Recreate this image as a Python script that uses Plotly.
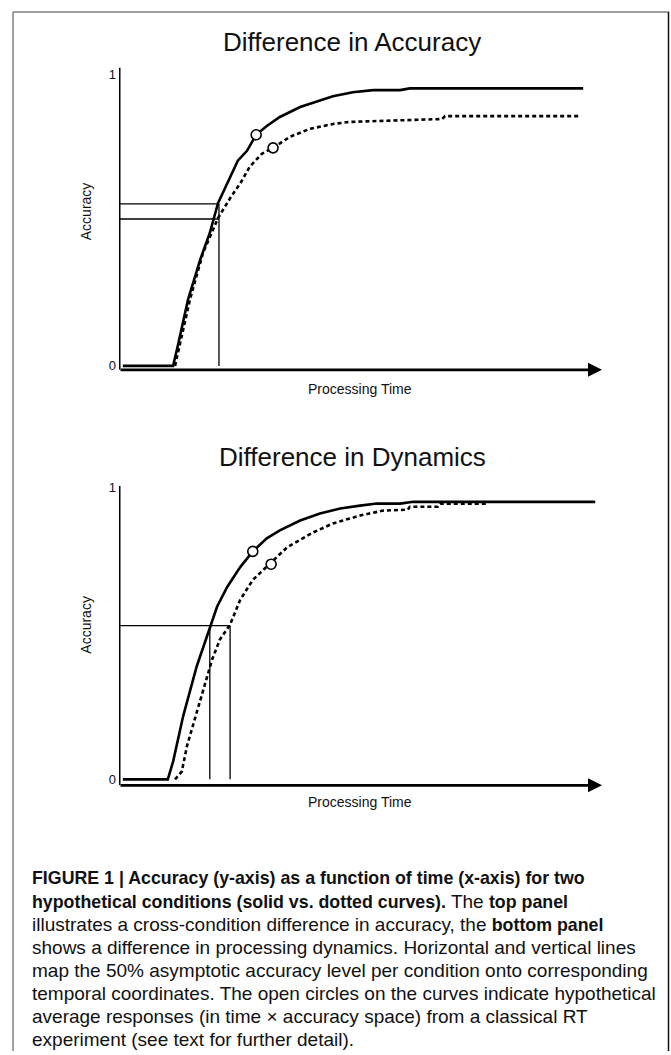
import plotly.graph_objects as go

W, H = 671, 1055

# ---------------- data ----------------
top_solid_t = [0.8, 11.2, 12.2, 14.3, 16.8, 18.8, 20.5, 22.4, 24.6, 26.5, 28.4, 30.6, 33.3, 37.5, 41.0, 44.3, 48.4, 52.6, 58.2, 60.2, 96.1]
top_solid_acc = [0, 0, 0.071, 0.228, 0.364, 0.456, 0.558, 0.626, 0.704, 0.738, 0.793, 0.823, 0.854, 0.888, 0.908, 0.925, 0.939, 0.946, 0.946, 0.952, 0.952]
top_dotted_t = [11.6, 13.0, 14.7, 17.4, 19.5, 20.5, 23.0, 25.1, 27.1, 29.6, 31.9, 35.4, 39.5, 44.3, 47.8, 54.0, 66.9, 67.5, 95.4]
top_dotted_acc = [0, 0.105, 0.228, 0.388, 0.473, 0.507, 0.575, 0.626, 0.684, 0.728, 0.748, 0.786, 0.813, 0.830, 0.837, 0.840, 0.847, 0.857, 0.857]
top_circles_t = [28.4, 31.9]
top_circles_acc = [0.793, 0.748]
top_levels = [0.556, 0.504]
top_cross_t = [20.7]

bot_solid_t = [0.8, 10.1, 11.2, 13.3, 16.1, 18.8, 20.3, 22.4, 25.1, 27.7, 30.6, 33.3, 37.5, 41.6, 45.8, 49.9, 53.4, 58.2, 60.9, 98.6]
bot_solid_acc = [0, 0, 0.061, 0.218, 0.388, 0.524, 0.592, 0.660, 0.728, 0.782, 0.827, 0.854, 0.888, 0.912, 0.929, 0.939, 0.946, 0.946, 0.952, 0.952]
bot_dotted_t = [11.6, 13.0, 14.1, 16.1, 18.2, 19.3, 20.9, 23.0, 25.1, 27.7, 31.3, 34.8, 40.2, 44.3, 49.9, 54.7, 59.8, 60.2, 66.0, 66.5, 76.2]
bot_dotted_acc = [0, 0.027, 0.116, 0.231, 0.354, 0.412, 0.480, 0.531, 0.616, 0.684, 0.741, 0.796, 0.847, 0.878, 0.905, 0.922, 0.925, 0.935, 0.935, 0.946, 0.946]
bot_circles_t = [27.7, 31.5]
bot_circles_acc = [0.782, 0.738]
bot_levels = [0.527]
bot_cross_t = [18.8, 23.0]

y_tick_vals = [0, 1]
y_tick_text = ["0", "1"]

titles = ["Difference in Accuracy", "Difference in Dynamics"]
x_label = "Processing Time"
y_label = "Accuracy"

B = '<span style="font-size:17.8px"><b>'
E = '</b></span>'
caption_lines = [
    B + "FIGURE 1 | Accuracy (y-axis) as a function of time (x-axis) for two" + E,
    B + "hypothetical conditions (solid vs. dotted curves)." + E + " The " + B + "top panel" + E,
    "illustrates a cross-condition difference in accuracy, the " + B + "bottom panel" + E,
    "shows a difference in processing dynamics. Horizontal and vertical lines",
    "map the 50% asymptotic accuracy level per condition onto corresponding",
    "temporal coordinates. The open circles on the curves indicate hypothetical",
    "average responses (in time \u00d7 accuracy space) from a classical RT",
    "experiment (see text for further detail).",
]

# ---------------- layout helpers ----------------
def px_x(p):
    return p / W

def px_y(p):
    return 1 - p / H

FONT = "Liberation Sans, Arial, Helvetica, sans-serif"

fig = go.Figure()

panels = [
    dict(xa="x", ya="y", solid=(top_solid_t, top_solid_acc), dotted=(top_dotted_t, top_dotted_acc),
         circles=(top_circles_t, top_circles_acc), levels=top_levels, cross=top_cross_t,
         yr=(-0.0136, 1.0238), ytop=63, ybot=368, title_y=37, xlab_y=387, ylab_y=208),
    dict(xa="x2", ya="y2", solid=(bot_solid_t, bot_solid_acc), dotted=(bot_dotted_t, bot_dotted_acc),
         circles=(bot_circles_t, bot_circles_acc), levels=bot_levels, cross=bot_cross_t,
         yr=(-0.0204, 1.0068), ytop=485, ybot=787, title_y=456, xlab_y=804, ylab_y=625),
]

annotations = []
for i, p in enumerate(panels):
    xa, ya = p["xa"], p["ya"]
    y0 = p["yr"][0]
    xmax_cross = max(p["cross"])
    for lv in p["levels"]:
        fig.add_trace(go.Scatter(x=[0, xmax_cross], y=[lv, lv], mode="lines",
                                 line=dict(color="black", width=1.3), xaxis=xa, yaxis=ya,
                                 showlegend=False, hoverinfo="skip"))
    for ct in p["cross"]:
        top_lv = min(p["levels"]) if len(p["cross"]) > 1 else max(p["levels"])
        fig.add_trace(go.Scatter(x=[ct, ct], y=[top_lv, 0],
                                 mode="lines", line=dict(color="black", width=1.3), xaxis=xa, yaxis=ya,
                                 showlegend=False, hoverinfo="skip"))
    fig.add_trace(go.Scatter(x=p["dotted"][0], y=p["dotted"][1], mode="lines",
                             line=dict(color="black", width=2.6, dash="4px,3px"), xaxis=xa, yaxis=ya,
                             showlegend=False, hoverinfo="skip"))
    fig.add_trace(go.Scatter(x=p["solid"][0], y=p["solid"][1], mode="lines",
                             line=dict(color="black", width=2.6), xaxis=xa, yaxis=ya,
                             showlegend=False, hoverinfo="skip"))
    fig.add_trace(go.Scatter(x=p["circles"][0], y=p["circles"][1], mode="markers",
                             marker=dict(size=10, color="white", line=dict(color="black", width=1.6)),
                             xaxis=xa, yaxis=ya, showlegend=False, hoverinfo="skip"))
    fig.add_trace(go.Scatter(x=[0, 0], y=[p["yr"][0], p["yr"][1]], mode="lines",
                             line=dict(color="black", width=3), xaxis=xa, yaxis=ya,
                             showlegend=False, hoverinfo="skip"))
    annotations.append(dict(x=100, y=y0, ax=0, ay=y0, xref=xa, yref=ya, axref=xa, ayref=ya,
                            text="", showarrow=True, arrowhead=2, arrowsize=1.0, arrowwidth=2.8,
                            arrowcolor="black", standoff=0, startstandoff=0))
    annotations.append(dict(x=px_x(352), y=px_y(p["title_y"]), xref="paper", yref="paper",
                            text=titles[i], showarrow=False, xanchor="center", yanchor="middle",
                            font=dict(family=FONT, size=26, color="#111")))
    annotations.append(dict(x=px_x(360), y=px_y(p["xlab_y"]), xref="paper", yref="paper",
                            text=x_label, showarrow=False, xanchor="center", yanchor="middle",
                            font=dict(family=FONT, size=14, color="#111")))
    annotations.append(dict(x=px_x(86), y=px_y(p["ylab_y"]), xref="paper", yref="paper",
                            text=y_label, showarrow=False, xanchor="center", yanchor="middle",
                            textangle=-90, font=dict(family=FONT, size=14, color="#111")))

cap_y0 = 881
cap_dy = 23.15
for k, line in enumerate(caption_lines):
    annotations.append(dict(x=px_x(30), y=px_y(cap_y0 + k * cap_dy), xref="paper", yref="paper",
                            text=line, showarrow=False, xanchor="left", yanchor="middle",
                            font=dict(family=FONT, size=19, color="#111")))

shapes = [
    dict(type="line", xref="paper", yref="paper", x0=px_x(13), x1=px_x(13), y0=px_y(7), y1=0,
         line=dict(color="#808080", width=1.5)),
    dict(type="line", xref="paper", yref="paper", x0=px_x(13), x1=px_x(669), y0=px_y(7), y1=px_y(7),
         line=dict(color="#808080", width=1.5)),
    dict(type="line", xref="paper", yref="paper", x0=px_x(668.5), x1=px_x(668.5), y0=px_y(7), y1=0,
         line=dict(color="#111", width=1.5)),
]

xdom = [px_x(119), px_x(602)]
common_x = dict(range=[0, 100], visible=False, fixedrange=True)

def yax(p, anchor):
    return dict(range=list(p["yr"]), domain=[px_y(p["ybot"]), px_y(p["ytop"])], anchor=anchor,
                tickvals=y_tick_vals, ticktext=y_tick_text, showgrid=False, zeroline=False,
                showline=False, ticks="", ticklabelstandoff=2, fixedrange=True,
                tickfont=dict(family=FONT, size=13, color="#111"))

fig.update_layout(
    width=W, height=H, margin=dict(l=0, r=0, t=0, b=0),
    paper_bgcolor="white", plot_bgcolor="rgba(0,0,0,0)",
    xaxis=dict(domain=xdom, anchor="y", **common_x),
    yaxis=yax(panels[0], "x"),
    xaxis2=dict(domain=xdom, anchor="y2", **common_x),
    yaxis2=yax(panels[1], "x2"),
    annotations=annotations, shapes=shapes, showlegend=False,
)

fig.write_html("out.html", config={"displayModeBar": False},
               post_script="document.body.style.margin='0px';document.body.style.overflow='hidden';")
